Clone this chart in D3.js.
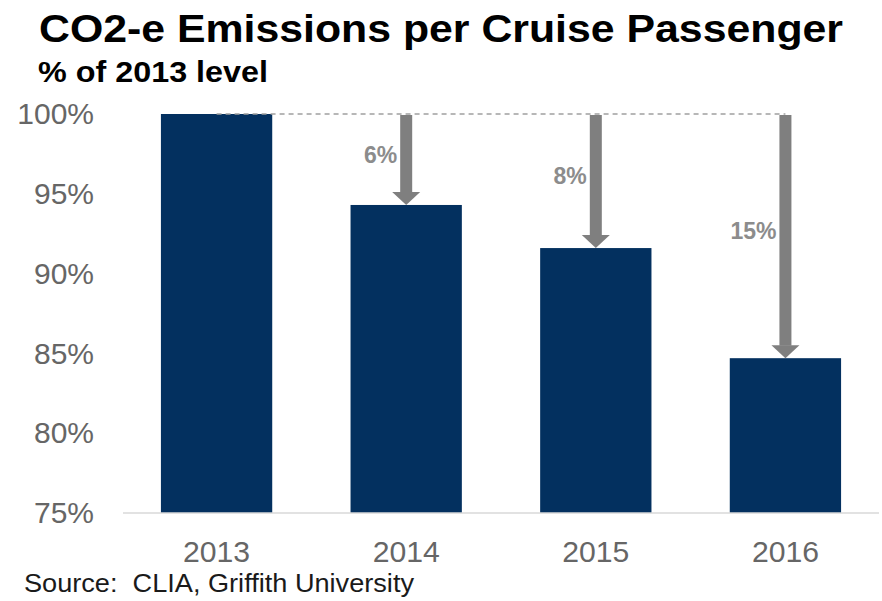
<!DOCTYPE html>
<html>
<head>
<meta charset="utf-8">
<script src="https://cdn.jsdelivr.net/npm/d3@7"></script>
<style>
  html, body { margin: 0; padding: 0; background: #ffffff; }
  svg { display: block; font-family: "Liberation Sans", Arial, Helvetica, sans-serif; }
</style>
</head>
<body>
<svg id="chart" width="882" height="601"></svg>
<script>
// Emissions per cruise passenger, indexed to 2013 = 100%
const years = ["2013", "2014", "2015", "2016"];
const levels = [100, 94.3, 91.6, 84.7];
const dropLabels = ["", "6%", "8%", "15%"];
const yTicks = [75, 80, 85, 90, 95, 100];

const titleText = "CO2-e Emissions per Cruise Passenger";
const subtitleText = "% of 2013 level";
const sourceText = "Source:\u00a0 CLIA, Griffith University";

const plot = { left: 123, right: 879, top: 114, bottom: 513 };

const svg = d3.select("#chart");

// stretch a text node horizontally around its anchor
function widen(sel, factor) {
  sel.each(function () {
    const len = this.getComputedTextLength();
    d3.select(this).attr("textLength", len * factor).attr("lengthAdjust", "spacingAndGlyphs");
  });
  return sel;
}

const x = d3.scaleBand()
  .domain(years)
  .range([plot.left, plot.right])
  .paddingInner(0.413)
  .paddingOuter(0.2);

const y = d3.scaleLinear()
  .domain([75, 100])
  .range([plot.bottom, plot.top]);

// Title block
svg.append("text")
  .attr("x", 39).attr("y", 42)
  .attr("font-size", 39).attr("font-weight", "bold").attr("fill", "#000")
  .text(titleText)
  .attr("textLength", 804).attr("lengthAdjust", "spacingAndGlyphs");

svg.append("text")
  .attr("x", 38).attr("y", 82)
  .attr("font-size", 30).attr("font-weight", "bold").attr("fill", "#000")
  .text(subtitleText)
  .attr("textLength", 230).attr("lengthAdjust", "spacingAndGlyphs");

// Bars
svg.append("g").selectAll("rect")
  .data(years.map((yr, i) => ({ yr, v: levels[i] })))
  .join("rect")
  .attr("x", d => x(d.yr))
  .attr("y", d => y(d.v))
  .attr("width", x.bandwidth())
  .attr("height", d => y(75) - y(d.v))
  .attr("fill", "#03305f");

// Baseline
svg.append("line")
  .attr("x1", plot.left).attr("x2", plot.right)
  .attr("y1", y(75)).attr("y2", y(75))
  .attr("stroke", "#d9d9d9").attr("stroke-width", 1.5);

// Y axis labels
const yAxis = svg.append("g")
  .attr("transform", `translate(94,0)`)
  .call(d3.axisLeft(y).tickValues(yTicks).tickFormat(d => d + "%").tickSize(0).tickPadding(0));
yAxis.select(".domain").remove();
yAxis.selectAll("text")
  .attr("font-size", 30).attr("fill", "#666666")
  .attr("font-family", "Liberation Sans, Arial, sans-serif");

// X axis labels
const xAxis = svg.append("g")
  .attr("transform", `translate(0,${y(75)})`)
  .call(d3.axisBottom(x).tickSize(0).tickPadding(28));
xAxis.select(".domain").remove();
xAxis.selectAll("text")
  .attr("font-size", 29).attr("fill", "#666666")
  .attr("font-family", "Liberation Sans, Arial, sans-serif");
widen(xAxis.selectAll("text"), 1.04);

// Reference line at the 2013 level
const cx = yr => x(yr) + x.bandwidth() / 2;
svg.append("line")
  .attr("x1", cx(years[0])).attr("x2", cx(years[years.length - 1]))
  .attr("y1", y(100)).attr("y2", y(100))
  .attr("stroke", "#a0a0a0").attr("stroke-width", 1.5)
  .attr("stroke-dasharray", "5,4");

// Reduction arrows and labels
const shaftW = 12, headW = 28, headH = 13;
const drops = years.map((yr, i) => ({ yr, v: levels[i], label: dropLabels[i] })).filter(d => d.label);
const arrows = svg.append("g").selectAll("g").data(drops).join("g");

arrows.append("rect")
  .attr("x", d => cx(d.yr) - shaftW / 2)
  .attr("y", y(100) + 1)
  .attr("width", shaftW)
  .attr("height", d => y(d.v) - headH - y(100) - 1 + 0.5)
  .attr("fill", "#7f7f7f");

arrows.append("path")
  .attr("d", d => {
    const c = cx(d.yr), tip = y(d.v);
    return `M${c - headW / 2},${tip - headH}L${c + headW / 2},${tip - headH}L${c},${tip}Z`;
  })
  .attr("fill", "#7f7f7f");

arrows.append("text")
  .attr("x", d => cx(d.yr) - 9)
  .attr("y", d => (y(100) + y(d.v)) / 2 - 5)
  .attr("dy", "0.35em")
  .attr("text-anchor", "end")
  .attr("font-size", 23).attr("font-weight", "bold").attr("fill", "#8c8c8c")
  .text(d => d.label);

// Source note
svg.append("text")
  .attr("x", 24).attr("y", 592)
  .attr("font-size", 26).attr("fill", "#1a1a1a")
  .text(sourceText)
  .attr("textLength", 390).attr("lengthAdjust", "spacingAndGlyphs");
</script>
</body>
</html>
